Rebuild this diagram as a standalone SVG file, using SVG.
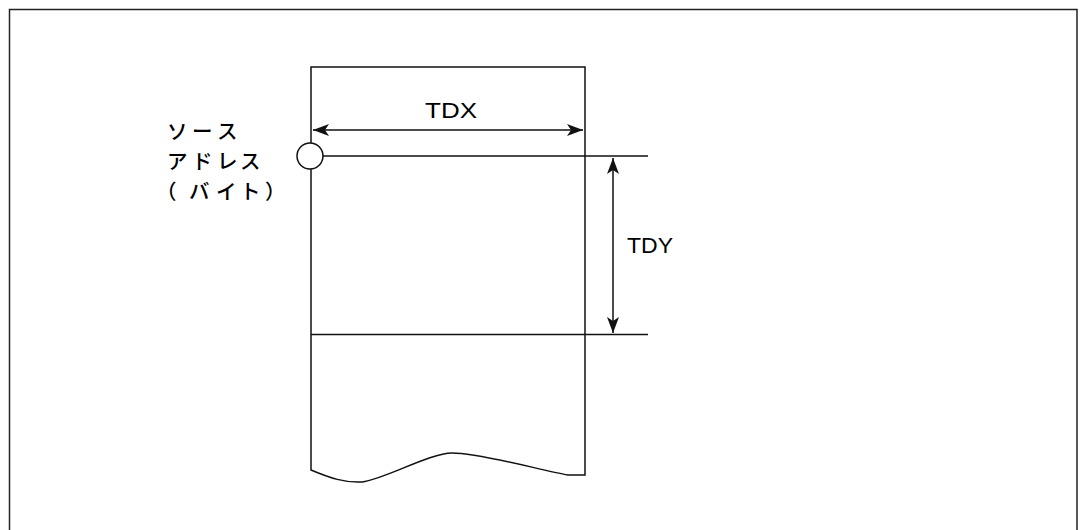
<svg xmlns="http://www.w3.org/2000/svg" width="1080" height="530" viewBox="0 0 1080 530">
<style>
.ln{fill:none;stroke:#111;stroke-width:1.5}
.lbl{font-family:"Liberation Sans",Arial,sans-serif;font-size:22px;fill:#000}
.jp{font-family:"Noto Sans CJK JP","Noto Sans CJK SC",sans-serif;font-size:20.5px;font-weight:500;fill:#000}
</style>
<defs>
<marker id="ah" viewBox="0 0 16 12" refX="16" refY="6" markerWidth="16" markerHeight="12" markerUnits="userSpaceOnUse" orient="auto-start-reverse">
<path d="M0,0 L16,6 L0,12 L4,6 Z" fill="#111"/>
</marker>
</defs>
<rect x="9.5" y="9.5" width="1067.5" height="540" fill="#fff" stroke="#222" stroke-width="1.5"/>
<g id="memory">
<path class="ln" d="M311,67 V470 C330,478 345,483 362,482 C385,479 430,453 452,453 C480,453 540,470 568,475 H585 V67 Z" fill="#fff"/>
<line class="ln" x1="311" y1="334.5" x2="648" y2="334.5"/>
<line class="ln" x1="323" y1="156" x2="648" y2="156"/>
</g>
<g id="source">
<circle cx="310" cy="156" r="13" fill="#fff" stroke="#111" stroke-width="1.5"/>
<text class="jp"><tspan x="167 192 217" y="139">ソース</tspan><tspan x="167 192 217 240" y="169">アドレス</tspan><tspan x="156 189 216 240 265" y="199">（バイト）</tspan></text>
</g>
<g id="connectors">
<line class="ln" x1="313" y1="130" x2="583" y2="130" marker-start="url(#ah)" marker-end="url(#ah)"/>
<line class="ln" x1="613" y1="158" x2="613" y2="333" marker-start="url(#ah)" marker-end="url(#ah)"/>
</g>
<g id="labels">
<text class="lbl" x="425" y="118" textLength="52" lengthAdjust="spacingAndGlyphs">TDX</text>
<text class="lbl" x="627" y="253" textLength="46" lengthAdjust="spacingAndGlyphs">TDY</text>
</g>
</svg>
